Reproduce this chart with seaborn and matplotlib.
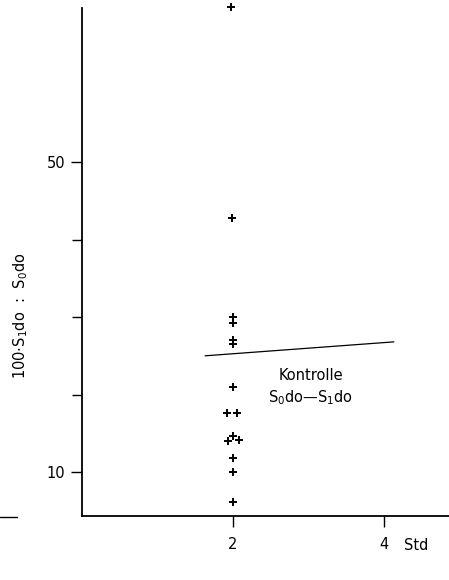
import matplotlib
matplotlib.use("Agg")
import matplotlib.pyplot as plt
import matplotlib.transforms as mtransforms
import seaborn as sns
import pandas as pd
from matplotlib.lines import Line2D

# data
std_x = [1.97, 1.99, 2.0, 2.0, 2.0, 2.0, 2.0, 1.92, 2.05, 2.0, 1.93, 2.08, 2.0, 2.0, 2.0]
ratio_y = [70.0, 42.8, 30.0, 29.2, 27.0, 26.5, 21.0, 17.6, 17.6, 14.6, 14.0, 14.1, 11.8, 10.0, 6.1]
control_x = [1.63, 4.13]
control_y = [25.0, 26.8]
xticks = [2, 4]
xtick_labels = ["2", "4"]
yticks_major = [10, 50]
yticks_minor = [20, 30, 40]

sns.set_style("ticks")
plt.rcParams['font.family'] = ['DejaVu Sans']
plt.rcParams['mathtext.fontset'] = 'dejavusans'
plt.rcParams['text.color'] = 'black'
plt.rcParams['xtick.color'] = 'black'
plt.rcParams['ytick.color'] = 'black'
plt.rcParams['axes.labelcolor'] = 'black'

FS = 10.5

fig = plt.figure(figsize=(4.49, 5.80), dpi=100)
ax = fig.add_axes([82/449, 64/580, 367/449, 508/580])

df = pd.DataFrame({"x": std_x, "y": ratio_y})
sns.scatterplot(data=df, x="x", y="y", marker="+", s=40, color="black",
                linewidth=1.4, ax=ax, clip_on=False)
sns.lineplot(x=control_x, y=control_y, color="black", linewidth=0.9, ax=ax)

ax.set_xlim(0, 4.86)
ax.set_ylim(4.32, 69.9)
ax.set_xticks(xticks)
ax.set_xticklabels(xtick_labels)
ax.set_yticks(yticks_major)
ax.set_yticks(yticks_minor, minor=True)
ax.tick_params(axis="both", which="both", direction="out", length=8, width=1.0,
               colors="black", labelsize=FS)
ax.tick_params(axis="y", which="both", pad=4)
ax.tick_params(axis="y", which="minor", length=7)
ax.tick_params(axis="x", pad=7)
for s in ["top", "right"]:
    ax.spines[s].set_visible(False)
for s in ["left", "bottom"]:
    ax.spines[s].set_color("black")
    ax.spines[s].set_linewidth(1.3)
ax.set_xlabel("")
ax.set_ylabel(r"100$\cdot$S$_1$do  :  S$_0$do", fontsize=FS)
ax.yaxis.set_label_coords(-0.142, 0.395)

trans = mtransforms.blended_transform_factory(ax.transData, ax.transAxes)
ax.text(4.26, -0.044, "Std", transform=trans, fontsize=FS, va="top", ha="left")

ax.text(3.03, 22.5, "Kontrolle", fontsize=FS, ha="center", va="center")
ax.text(3.03, 19.6, "S$_0$do\u2014S$_1$do", fontsize=FS, ha="center", va="center")

fig.add_artist(Line2D([0, 17/449], [63/580, 63/580], color="black", linewidth=1.0))

fig.savefig("out.png", dpi=100)
